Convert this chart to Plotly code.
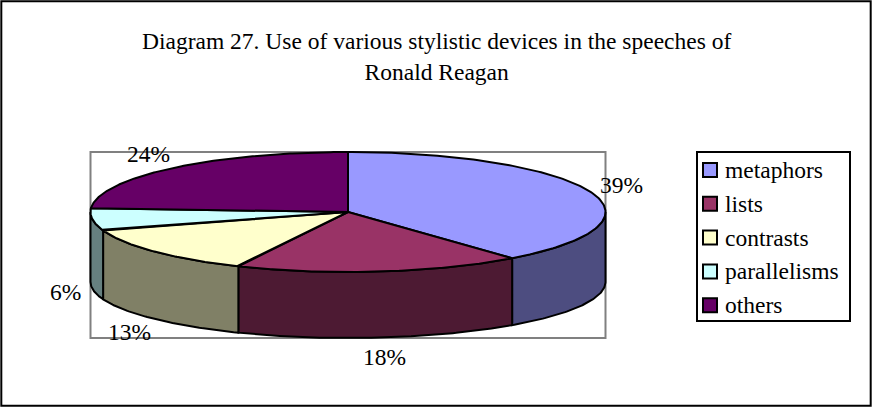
import numpy as np
import plotly.graph_objects as go

# Share of each stylistic device (percent)
categories = ["metaphors", "lists", "contrasts", "parallelisms", "others"]
shares = [39, 18, 13, 6, 24]
top_colors = ["#9999FF", "#993366", "#FFFFCC", "#CCFFFF", "#660066"]
side_colors = ["#4D4D80", "#4D1A33", "#808066", "#668080", "#330033"]

title_lines = ["Diagram 27. Use of various stylistic devices in the speeches of",
               "Ronald Reagan"]

W, H = 872, 407
FONT = "Liberation Serif"
FS = 23.5

# Geometry of the tilted pie (layout units, y grows downward)
CX, RX = 348.0, 257.5
CY_TOP, RY_TOP = 212.0, 60.0
CY_BOT, RY_BOT = 282.0, 56.0

# Legend box placement
LEG_X0, LEG_X1, LEG_Y0, LEG_Y1 = 697, 850, 152, 321
LEG_ROW0, LEG_STEP, SWATCH = 170, 33.8, 14


def top_pt(t):
    return CX + RX * np.sin(t), CY_TOP - RY_TOP * np.cos(t)


def bot_pt(t):
    return CX + RX * np.sin(t), CY_BOT - RY_BOT * np.cos(t)


fig = go.Figure()

fractions = np.array(shares, dtype=float) / sum(shares)
bounds = np.concatenate([[0.0], np.cumsum(fractions)]) * 2 * np.pi

# Side walls: only the front half of the rim (pi/2 .. 3pi/2 clockwise from top) is visible
for i, name in enumerate(categories):
    a, b = bounds[i], bounds[i + 1]
    lo, hi = max(a, np.pi / 2), min(b, 3 * np.pi / 2)
    if hi <= lo:
        continue
    t = np.linspace(lo, hi, 80)
    xt, yt = top_pt(t)
    xb, yb = bot_pt(t[::-1])
    xs = np.concatenate([xt, xb, xt[:1]])
    ys = np.concatenate([yt, yb, yt[:1]])
    fig.add_trace(go.Scatter(x=xs, y=ys, mode="lines", fill="toself",
                             fillcolor=side_colors[i],
                             line=dict(color="black", width=2),
                             hoverinfo="skip", showlegend=False))

# Top faces of the slices
for i, name in enumerate(categories):
    a, b = bounds[i], bounds[i + 1]
    t = np.linspace(a, b, 160)
    xt, yt = top_pt(t)
    xs = np.concatenate([[CX], xt, [CX]])
    ys = np.concatenate([[CY_TOP], yt, [CY_TOP]])
    fig.add_trace(go.Scatter(x=xs, y=ys, mode="lines", fill="toself",
                             fillcolor=top_colors[i],
                             line=dict(color="black", width=2),
                             name=name, hoverinfo="skip", showlegend=False))

# Percentage labels placed just outside each slice's mid-angle
GAP, HALF_H = 12, 8
for i, share in enumerate(shares):
    m = (bounds[i] + bounds[i + 1]) / 2
    if np.cos(m) < 0:
        ex, ey = bot_pt(m)
    else:
        ex, ey = top_pt(m)
    text = f"{share}%"
    half_w = 0.5 * FS * (0.5 * len(str(share)) + 0.833)
    lx = ex + (GAP + half_w) * np.sin(m)
    ly = ey - (GAP + HALF_H) * np.cos(m)
    fig.add_annotation(x=lx, y=ly, text=text, showarrow=False,
                       font=dict(family=FONT, size=FS, color="black"),
                       xanchor="center", yanchor="middle")

# Title
fig.add_annotation(x=436, y=56, text="<br>".join(title_lines), showarrow=False,
                   font=dict(family=FONT, size=FS, color="black"),
                   xanchor="center", yanchor="middle", align="center")

shapes = [
    # plot-area frame around the pie
    dict(type="rect", x0=CX - RX, x1=CX + RX, y0=CY_TOP - RY_TOP, y1=CY_BOT + RY_BOT,
         line=dict(color="#808080", width=2), layer="below"),
    # chart border
    dict(type="rect", xref="paper", yref="paper", x0=0.0015, x1=0.9985, y0=0.003, y1=0.997,
         line=dict(color="black", width=2)),
    # legend box
    dict(type="rect", x0=LEG_X0, x1=LEG_X1, y0=LEG_Y0, y1=LEG_Y1,
         line=dict(color="black", width=2), fillcolor="white"),
]

# Legend rows: colour swatch plus category name
for i, name in enumerate(categories):
    yc = LEG_ROW0 + i * LEG_STEP
    shapes.append(dict(type="rect", x0=LEG_X0 + 6, x1=LEG_X0 + 6 + SWATCH,
                       y0=yc - SWATCH / 2, y1=yc + SWATCH / 2,
                       fillcolor=top_colors[i], line=dict(color="black", width=2)))
    fig.add_annotation(x=LEG_X0 + 26, y=yc, text=name, showarrow=False,
                       font=dict(family=FONT, size=FS, color="black"),
                       xanchor="left", yanchor="middle")

fig.update_layout(
    width=W, height=H,
    margin=dict(l=0, r=0, t=0, b=0),
    paper_bgcolor="white", plot_bgcolor="white",
    xaxis=dict(range=[0, W], visible=False, fixedrange=True),
    yaxis=dict(range=[H, 0], visible=False, fixedrange=True),
    shapes=shapes,
    showlegend=False,
)

fig.write_html("out.html")
